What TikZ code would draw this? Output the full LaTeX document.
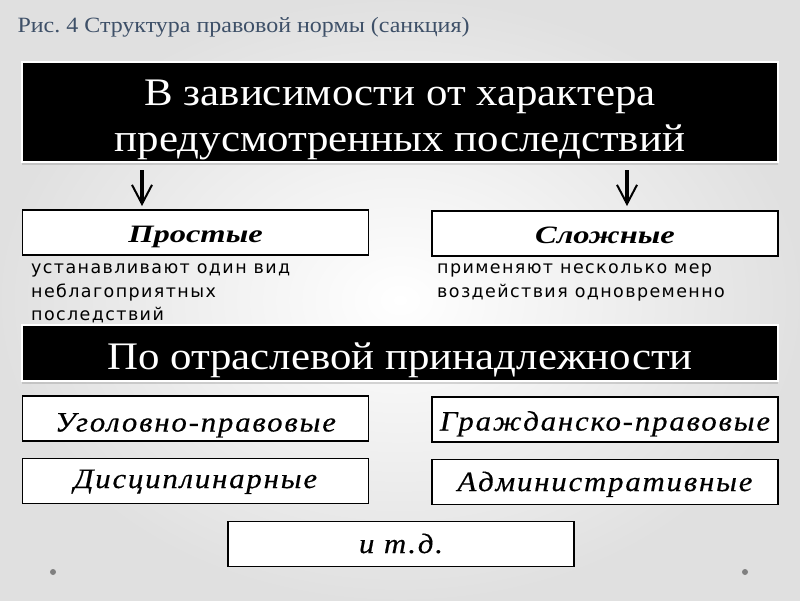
\documentclass[tikz,border=0pt]{standalone}
\usepackage{fontspec}
\setmainfont[FakeStretch=1.1]{Liberation Serif}
\newfontfamily\kindfont[FakeStretch=1.3]{Liberation Serif}
\newfontfamily\branchfont[FakeStretch=1.1, LetterSpace=6.5, FakeBold=0.4]{Liberation Serif}
\newfontfamily\notefont[LetterSpace=8]{DejaVu Sans}
\usetikzlibrary{arrows.meta,shadows}
\definecolor{capcol}{HTML}{3E5068}
\frenchspacing

\tikzset{
  bandbox/.style={fill=black, draw=white, line width=1.2pt,
    drop shadow={shadow xshift=0pt, shadow yshift=-3pt, opacity=0.3}},
  bandtext/.style={text=white, align=center, inner sep=0pt,
    font=\fontsize{39}{46}\selectfont},
  kind/.style={fill=white, draw=black, line width=1.8pt, inner sep=0pt,
    minimum width=346pt, minimum height=45pt, text height=26pt, text depth=6pt,
    font=\kindfont\fontsize{25}{28}\selectfont\bfseries\itshape},
  branch/.style={kind, text height=26pt, text depth=6pt,
    font=\branchfont\fontsize{28}{32}\selectfont\itshape},
  note/.style={inner sep=0pt, align=left, anchor=north west,
    font=\notefont\fontsize{17.5}{23.3}\selectfont},
  down/.style={line width=3.2pt, -{Straight Barb[length=19pt, width=20pt, line width=2pt]}}
}

\begin{document}
\begin{tikzpicture}[x=1pt, y=-1pt]
\def\xl{0}
\def\xr{800}
\def\yt{0}
\def\yb{600}

\def\xa{195.5}
\def\xb{605}
\def\xc{400}

\shade[inner color=white, outer color=black!12] (\xl,\yt) rectangle (\xr,\yb);
\useasboundingbox (\xl,\yt) rectangle (\xr,\yb);

\node[anchor=base west, text=capcol, font=\fontsize{21.8}{26}\selectfont] (cap) at (14,32) {Рис. 4 Структура правовой нормы (санкция)};

\filldraw[bandbox] (22,62) rectangle (778,162);
\node[bandtext] (h1) at (\xc,119.5) {В зависимости от характера\\предусмотренных последствий};

\coordinate (a1) at (142,170);
\coordinate (b1) at (142,206);
\coordinate (a2) at (627,170);
\coordinate (b2) at (627,206);

\node[kind] (pr) at (\xa,232.5) {Простые};
\node[kind] (sl) at (\xb,233.5) {Сложные};

\node[note] (n1) at (31,263.8) {устанавливают один вид\\неблагоприятных\\последствий};
\node[note] (n2) at (437,263.8) {применяют несколько мер\\воздействия одновременно};

\filldraw[bandbox] (22,325) rectangle (778,381);
\node[bandtext] (h2) at (\xc,360) {По отраслевой принадлежности};

\node[branch, text height=32pt] (ug) at (\xa,418.5) {Уголовно-правовые};
\node[branch, text height=28pt] (gr) at (\xb,419.5) {Гражданско-правовые};
\node[branch, text height=20pt] (di) at (\xa,481) {Дисциплинарные};
\node[branch, text height=24pt] (ad) at (\xb,482) {Административные};
\node[branch, text height=24pt] (etc) at (401,544) {и т.д.};

\draw[down] (a1) -- (b1);
\draw[down] (a2) -- (b2);

\fill[black!50] (53,572) circle (3);
\fill[black!50] (745,572) circle (3);

\end{tikzpicture}
\end{document}
